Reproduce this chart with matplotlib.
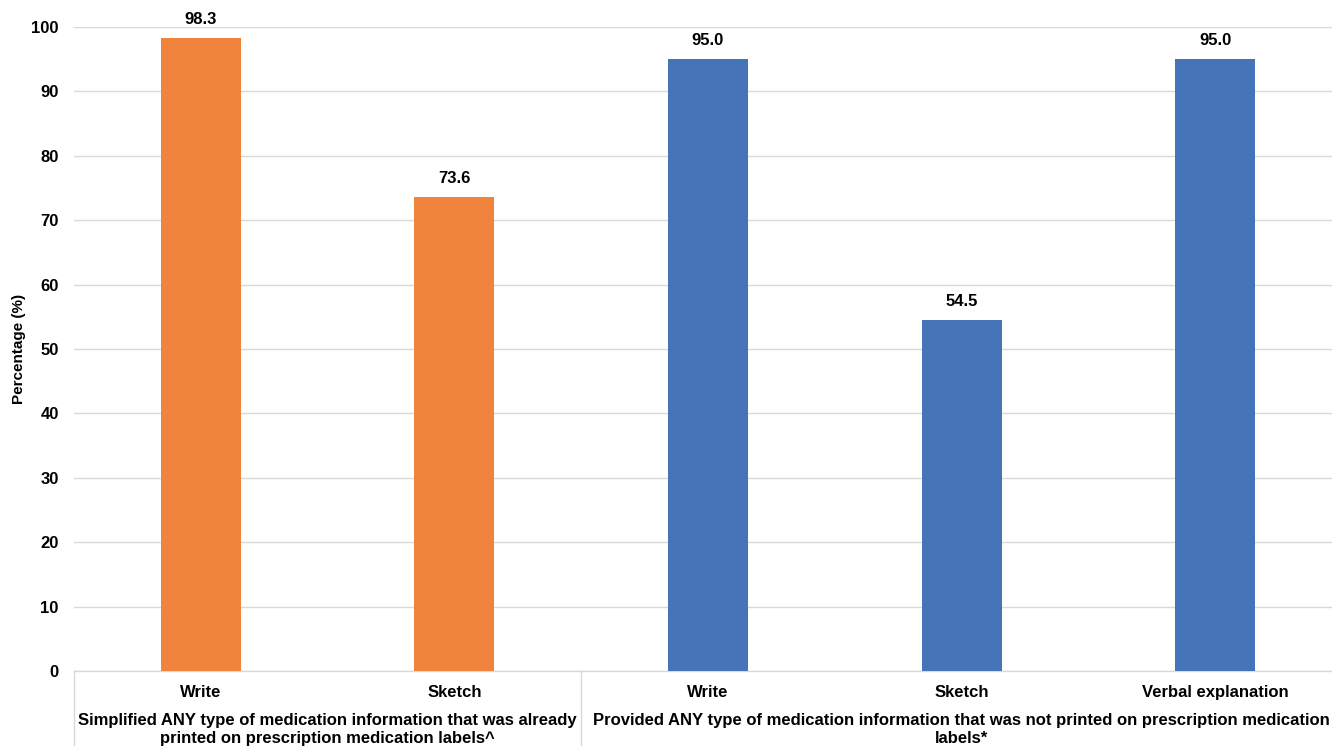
import matplotlib
matplotlib.use("Agg")
import matplotlib.pyplot as plt
from matplotlib.lines import Line2D

plt.rcParams['font.family'] = ['Liberation Sans', 'DejaVu Sans']

categories = ["Write", "Sketch", "Write", "Sketch", "Verbal explanation"]
values = [98.3, 73.6, 95.0, 54.5, 95.0]
groups = [
    "Simplified ANY type of medication information that was already\nprinted on prescription medication labels^",
    "Provided ANY type of medication information that was not printed on prescription medication\nlabels*",
]
group_sizes = [2, 3]
colors = ["#F0843C", "#F0843C", "#4674B8", "#4674B8", "#4674B8"]
yticks = [0, 10, 20, 30, 40, 50, 60, 70, 80, 90, 100]

W, H = 1332, 746
left_px, right_px = 74, 1342
ax_w = right_px - left_px
fig = plt.figure(figsize=(W / 100, H / 100), dpi=100)
ax = fig.add_axes([left_px / W, 1 - 671 / H, ax_w / W, (671 - 27) / H])

x = list(range(len(categories)))
bars = ax.bar(x, values, width=0.315, color=colors, zorder=3)
for xi, v in zip(x, values):
    ax.annotate(f"{v:.1f}", xy=(xi, v), xytext=(0, 8), textcoords="offset points",
                ha="center", va="bottom", fontsize=12, fontweight="bold",
                annotation_clip=False)

ax.set_xlim(-0.5, len(categories) - 0.5)
ax.set_ylim(0, 100)
ax.set_yticks(yticks)
ax.set_yticklabels([str(t) for t in yticks], fontsize=12, fontweight="bold")
ax.yaxis.grid(True, color="#D9D9D9", linewidth=1, zorder=0)
ax.tick_params(axis="y", length=0, pad=11)
ax.tick_params(axis="x", length=0)
ax.set_xticks([])
for s in ["left", "right", "top"]:
    ax.spines[s].set_visible(False)
ax.spines["bottom"].set_color("#D9D9D9")
ax.spines["bottom"].set_linewidth(1)

ax.set_ylabel("Percentage (%)", fontsize=11, fontweight="bold")
ax.yaxis.set_label_coords((26 - left_px) / ax_w, 0.5)

# category labels under each bar
for xi, c in zip(x, categories):
    ax.annotate(c, xy=(xi, 0), xycoords="data", xytext=(0, -10),
                textcoords="offset points", ha="center", va="top",
                fontsize=12, fontweight="bold", annotation_clip=False)

# group labels and separator lines
start = -0.5
bounds = [start]
for g, n in zip(groups, group_sizes):
    center = start + n / 2
    ax.annotate(g, xy=(center, 0), xycoords="data", xytext=(0, -30),
                textcoords="offset points", ha="center", va="top",
                fontsize=12, fontweight="bold", linespacing=1.25,
                annotation_clip=False)
    start += n
    bounds.append(start)

for b in bounds:
    xf = ax.transData.transform((b, 0))[0] / W
    fig.add_artist(Line2D([xf, xf], [0, 1 - 671 / H], color="#D9D9D9",
                          linewidth=1, transform=fig.transFigure))

fig.savefig("out.png", dpi=100)
